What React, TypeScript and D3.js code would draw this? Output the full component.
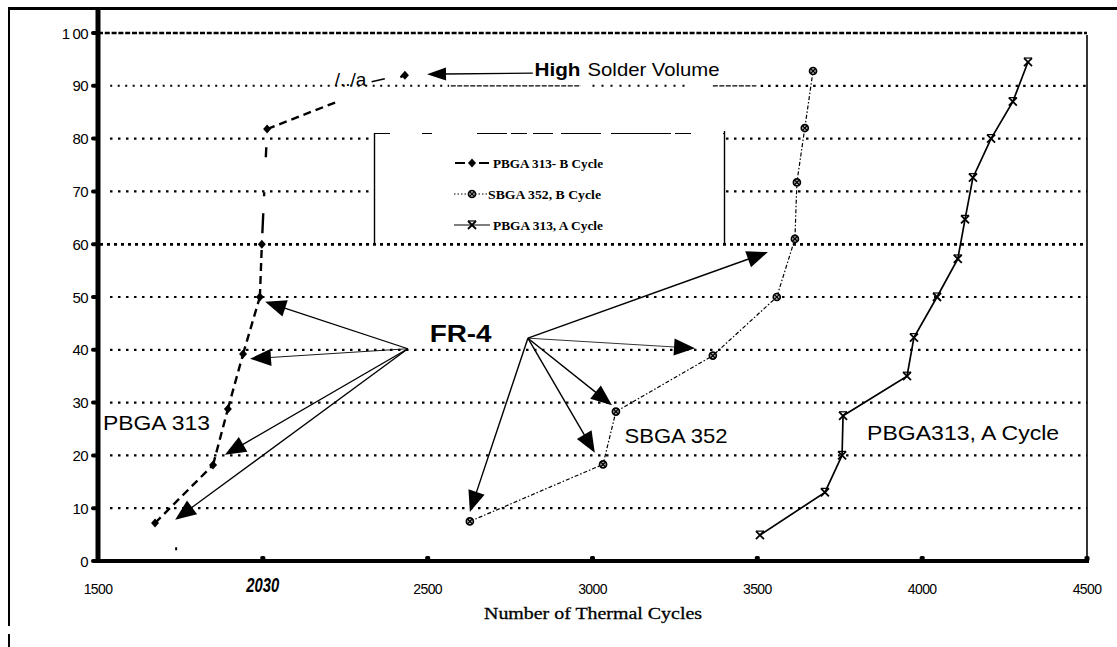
import React from "react";
import * as d3 from "d3";

const W = 1117;
const H = 647;

// ---- axis definitions ----
const xTickValues = [1500, 2000, 2500, 3000, 3500, 4000, 4500];
const xTickLabels = ["1500", "2030", "2500", "3000", "3500", "4000", "4500"];
const yTickValues = [0, 10, 20, 30, 40, 50, 60, 70, 80, 90, 100];
const xAxisTitle = "Number of Thermal Cycles";

// ---- series data (cycles, % failed) ----
const pbgaBCycles = [1673, 1849, 1894, 1940, 1991, 1997, 2013, 2431];
const pbgaBPercent = [7.2, 18.2, 28.8, 39.2, 50, 60, 81.8, 92];

const sbgaCycles = [2628, 3032, 3071, 3365, 3559, 3614, 3620, 3644, 3669];
const sbgaPercent = [7.5, 18.3, 28.3, 38.9, 50, 61, 71.7, 82, 92.8];

const pbgaACycles = [3508, 3705, 3757, 3760, 3954, 3975, 4045, 4108, 4130, 4154, 4209, 4275, 4321];
const pbgaAPercent = [4.9, 13, 20, 27.5, 35, 42.3, 50, 57.2, 64.7, 72.6, 80, 87, 94.5];

const seriesNames = ["PBGA 313- B Cycle", "SBGA 352,  B Cycle", "PBGA 313, A Cycle"];

// ---- annotation arrows (cycles, %) ----
const fr4LeftOrigin = [2440, 40.2];
const fr4LeftTips = [
  [2007, 49.1],
  [1961, 38.3],
  [1885, 20.1],
  [1734, 7.8],
];
const fr4RightOrigin = [2804, 42.2];
const fr4RightTips = [
  [3532, 58.5],
  [3311, 40.3],
  [3059, 29.5],
  [3007, 20.5],
  [2628, 9.3],
];
const highArrowTail = [2819, 92.4];
const highArrowTip = [2498, 92.2];

const SANS = "'Liberation Sans', Arial, Helvetica, sans-serif";
const SERIF = "'Liberation Serif', 'Times New Roman', serif";

const x = d3.scaleLinear().domain([1500, 4500]).range([98, 1087]);
const y = d3.scaleLinear().domain([0, 100]).range([561, 33]);

function Arrow({ from, to, width = 1.3, len = 21, half = 8.5 }: any) {
  const x0 = x(from[0]);
  const y0 = y(from[1]);
  const x1 = x(to[0]);
  const y1 = y(to[1]);
  const ang = Math.atan2(y1 - y0, x1 - x0);
  const bx = x1 - len * Math.cos(ang);
  const by = y1 - len * Math.sin(ang);
  const px = -Math.sin(ang) * half;
  const py = Math.cos(ang) * half;
  return (
    <g>
      <line x1={x0} y1={y0} x2={bx + 2 * Math.cos(ang)} y2={by + 2 * Math.sin(ang)} stroke="#000" strokeWidth={width} />
      <path d={`M${x1},${y1} L${bx + px},${by + py} L${bx - px},${by - py} Z`} fill="#000" />
    </g>
  );
}

function Diamond({ cx, cy }: any) {
  return <path d={`M${cx},${cy - 4.5} L${cx + 4},${cy} L${cx},${cy + 4.5} L${cx - 4},${cy} Z`} fill="#000" />;
}
function CrossCircle({ cx, cy }: any) {
  return (
    <g>
      <circle cx={cx} cy={cy} r={3.5} fill="#bbb" stroke="#000" strokeWidth={1.7} />
      <line x1={cx - 2.6} y1={cy - 2.6} x2={cx + 2.6} y2={cy + 2.6} stroke="#000" strokeWidth={1.3} />
      <line x1={cx - 2.6} y1={cy + 2.6} x2={cx + 2.6} y2={cy - 2.6} stroke="#000" strokeWidth={1.3} />
    </g>
  );
}
function XMark({ cx, cy }: any) {
  return (
    <g stroke="#000" strokeWidth={1.8}>
      <line x1={cx - 4} y1={cy - 4} x2={cx + 4} y2={cy + 4} />
      <line x1={cx - 4} y1={cy + 4} x2={cx + 4} y2={cy - 4} />
      <line x1={cx - 4} y1={cy - 4} x2={cx + 4} y2={cy - 4} strokeWidth={1.2} />
    </g>
  );
}

// segment styles: for each series, style of the segment from point i to i+1
const pbgaBSegmentDash = ["8 5", "8 5", "8 5", "8 5", "8 5", "0 11 20 17 4 35 10 18", "8 5"];

const series = [
  { name: seriesNames[0], xs: pbgaBCycles, ys: pbgaBPercent, dash: "8 5", width: 2.4, Marker: Diamond, clip: true, segDash: pbgaBSegmentDash },
  { name: seriesNames[1], xs: sbgaCycles, ys: sbgaPercent, dash: "4 2 1.5 2", width: 1.2, Marker: CrossCircle, clip: false, segDash: null },
  { name: seriesNames[2], xs: pbgaACycles, ys: pbgaAPercent, dash: undefined, width: 1.7, Marker: XMark, clip: false, segDash: null },
];

export default function App() {
  const line = d3
    .line<[number, number]>()
    .x((d) => x(d[0]))
    .y((d) => y(d[1]));

  const gridStart = 110;
  const gridEnd = 1087;

  // 90% gridline rendered with scanner-like mixed segments (in cycles)
  const grid90Segments: [number, number, string, number][] = [
    [1537, 2565, "2 5.5", 2],
    [2570, 2965, "5 1.5", 1.2],
    [3000, 3295, "2 7", 2],
    [3365, 3497, "5 1.5", 1.2],
    [3510, 4500, "2.5 5", 2.2],
  ];

  return (
    <svg
      width={W}
      height={H}
      viewBox={`0 0 ${W} ${H}`}
      style={{ position: "absolute", left: 0, top: 0, background: "#fff" }}
      fontFamily={SANS}
    >
      <rect x={0} y={0} width={W} height={H} fill="#fff" />
      <defs>
        <clipPath id="clipB">
          <rect x={0} y={0} width={336} height={H} />
          <rect x={399} y={0} width={W - 399} height={H} />
        </clipPath>
      </defs>

      {/* outer frame */}
      <line x1={8} y1={8.5} x2={W} y2={8.5} stroke="#000" strokeWidth={3} />
      <line x1={9} y1={7} x2={9} y2={626} stroke="#000" strokeWidth={2} />
      <line x1={9} y1={634} x2={9} y2={647} stroke="#000" strokeWidth={2} />

      {/* gridlines */}
      {yTickValues
        .filter((v) => v > 0 && v < 100 && v !== 90)
        .map((v) => (
          <line
            key={v}
            x1={v === 60 ? 100 : gridStart}
            x2={gridEnd}
            y1={y(v)}
            y2={y(v)}
            stroke="#000"
            strokeWidth={v === 60 ? 2.6 : 2.2}
            strokeDasharray={v === 60 ? "3 4" : "2.5 5.5"}
          />
        ))}
      {grid90Segments.map(([a, b, dash, w], i) => (
        <line key={i} x1={x(a)} x2={x(b)} y1={y(90)} y2={y(90)} stroke="#000" strokeWidth={w} strokeDasharray={dash} />
      ))}
      {/* 100 line (top of plot) */}
      <line x1={98} x2={1087} y1={y(100)} y2={y(100)} stroke="#000" strokeWidth={2.6} strokeDasharray="5 1.8" />

      {/* legend */}
      <g>
        <rect x={374} y={133} width={351} height={110} fill="#fff" stroke="none" />
        <line x1={374.5} y1={133} x2={374.5} y2={245} stroke="#000" strokeWidth={1.4} />
        <line x1={724.5} y1={131} x2={724.5} y2={245} stroke="#000" strokeWidth={1.4} />
        <line x1={374} y1={133.5} x2={725} y2={133.5} stroke="#000" strokeWidth={1.2} strokeDasharray="16 32 10 45 30 4 16 6 20 8 40 10 60 4" />
        <line x1={100} x2={gridEnd} y1={y(60)} y2={y(60)} stroke="#000" strokeWidth={2.6} strokeDasharray="3 4" />
        {series.map((s, i) => {
          const ry = 163 + i * 31;
          const M = s.Marker;
          return (
            <g key={s.name}>
              {i === 0 && (
                <g stroke="#000" strokeWidth={2}>
                  <line x1={455} x2={465} y1={ry} y2={ry} />
                  <line x1={479} x2={489} y1={ry} y2={ry} />
                </g>
              )}
              {i === 1 && (
                <line x1={454} x2={490} y1={ry} y2={ry} stroke="#000" strokeWidth={1.2} strokeDasharray="1.5 2" />
              )}
              {i === 2 && <line x1={454} x2={490} y1={ry} y2={ry} stroke="#000" strokeWidth={1.2} />}
              <M cx={472} cy={ry} />
              <text
                x={i === 1 ? 488 : 493}
                y={ry + 4.5}
                fontFamily={SERIF}
                fontWeight="bold"
                fontSize={13}
                textLength={i === 1 ? 113 : 110}
                lengthAdjust="spacingAndGlyphs"
              >
                {s.name}
              </text>
            </g>
          );
        })}
      </g>

      {/* right border */}
      <line x1={1087} x2={1087} y1={y(100) + 2} y2={562} stroke="#000" strokeWidth={1.6} />

      {/* y axis */}
      <line x1={98} x2={98} y1={7} y2={563} stroke="#000" strokeWidth={5} />
      {yTickValues.map((v) => (
        <g key={v}>
          <line x1={93} x2={97} y1={y(v)} y2={y(v)} stroke="#000" strokeWidth={4} strokeLinecap="round" />
          <text x={88} y={y(v) + 5.5} textAnchor="end" fontSize={15} letterSpacing={-0.6}>
            {v === 100 ? (
              <>
                <tspan>1</tspan>
                <tspan dx={3}>00</tspan>
              </>
            ) : (
              String(v)
            )}
          </text>
        </g>
      ))}

      {/* x axis */}
      <line x1={96} x2={1089} y1={561} y2={561} stroke="#000" strokeWidth={4} />
      {xTickValues.map((v, i) => (
        <g key={v}>
          {i > 0 && <rect x={x(v) - 2.5} y={556} width={5} height={5} rx={1.5} fill="#000" />}
          {xTickLabels[i] === "2030" ? (
            <text
              x={x(v)}
              y={592}
              textAnchor="middle"
              fontSize={21}
              fontWeight="bold"
              fontStyle="italic"
              textLength={33}
              lengthAdjust="spacingAndGlyphs"
            >
              {xTickLabels[i]}
            </text>
          ) : (
            <text x={x(v)} y={594} textAnchor="middle" fontSize={14} letterSpacing={-0.6}>
              {xTickLabels[i]}
            </text>
          )}
        </g>
      ))}
      <text
        x={593}
        y={619}
        textAnchor="middle"
        fontFamily={SERIF}
        fontSize={17}
        textLength={218}
        lengthAdjust="spacingAndGlyphs"
        stroke="#000"
        strokeWidth={0.3}
      >
        {xAxisTitle}
      </text>

      {/* series */}
      {series.map((s) => {
        const pts = s.xs.map((c, i) => [c, s.ys[i]] as [number, number]);
        const M = s.Marker;
        return (
          <g key={s.name}>
            {s.segDash ? (
              pts.slice(0, -1).map((p, i) => (
                <path
                  key={i}
                  d={line([p, pts[i + 1]]) || ""}
                  fill="none"
                  stroke="#000"
                  strokeWidth={s.width}
                  strokeDasharray={s.segDash![i]}
                  clipPath={s.clip ? "url(#clipB)" : undefined}
                />
              ))
            ) : (
              <path
                d={line(pts) || ""}
                fill="none"
                stroke="#000"
                strokeWidth={s.width}
                strokeDasharray={s.dash}
              />
            )}
            {pts.map((p, i) => (
              <M key={i} cx={x(p[0])} cy={y(p[1])} />
            ))}
          </g>
        );
      })}

      {/* scanner text artefact on the high-volume segment */}
      <text x={x(2218)} y={y(90)} fontSize={19}>
        /../a
      </text>
      <line x1={x(2330)} y1={y(90) - 4} x2={x(2370)} y2={y(90) - 7} stroke="#000" strokeWidth={1.5} />

      {/* FR-4 arrows */}
      {fr4LeftTips.map((t, i) => (
        <Arrow key={"l" + i} from={fr4LeftOrigin} to={t} width={i === 1 ? 0.9 : 1.3} />
      ))}
      {fr4RightTips.map((t, i) => (
        <Arrow key={"r" + i} from={fr4RightOrigin} to={t} width={i === 1 ? 0.8 : 1.4} />
      ))}
      <Arrow from={highArrowTail} to={highArrowTip} width={1.4} len={19} half={6.5} />

      {/* annotation texts */}
      <text x={x(2506)} y={y(41.5)} fontSize={24} fontWeight="bold" textLength={62} lengthAdjust="spacingAndGlyphs">
        FR-4
      </text>
      <text x={x(2824)} y={y(91.8)} fontSize={19} fontWeight="bold" textLength={46} lengthAdjust="spacingAndGlyphs">
        High
      </text>
      <text x={x(2985)} y={y(91.8)} fontSize={19} textLength={132} lengthAdjust="spacingAndGlyphs">
        Solder Volume
      </text>
      <text x={x(1515)} y={y(24.8)} fontSize={21} textLength={107} lengthAdjust="spacingAndGlyphs">
        PBGA 313
      </text>
      <text x={x(3097)} y={y(22.3)} fontSize={21} textLength={103} lengthAdjust="spacingAndGlyphs">
        SBGA 352
      </text>
      <text x={x(3833)} y={y(22.9)} fontSize={21} textLength={192} lengthAdjust="spacingAndGlyphs">
        PBGA313, A Cycle
      </text>
      <rect x={x(1734)} y={y(2.6)} width={2} height={3} fill="#000" />
    </svg>
  );
}
